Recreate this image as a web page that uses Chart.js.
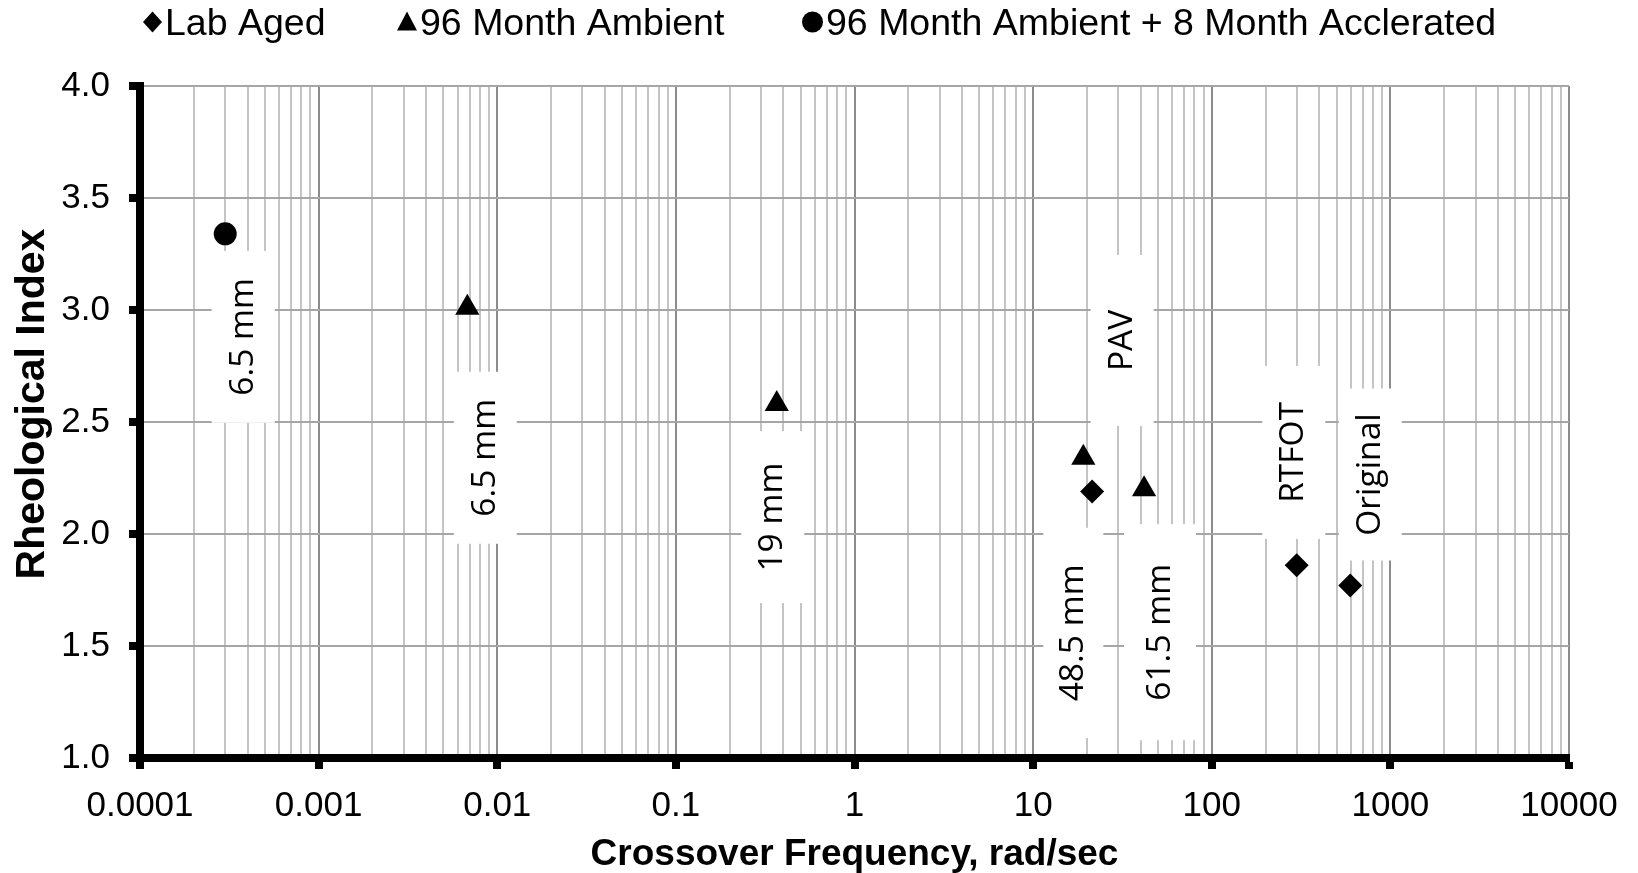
<!DOCTYPE html>
<html>
<head>
<meta charset="utf-8">
<title>Rheological Index vs Crossover Frequency</title>
<script src="https://cdn.jsdelivr.net/npm/chart.js@4.4.1/dist/chart.umd.min.js"></script>
<style>
  html, body { margin: 0; padding: 0; background: #ffffff; }
  #c { display: block; }
</style>
</head>
<body>
<canvas id="c" width="1638" height="873"></canvas>
<script>
// ---- data ----
const seriesNames = ['Lab Aged', '96 Month Ambient', '96 Month Ambient + 8 Month Acclerated'];

const labAgedX = [21.4, 299, 596];
const labAgedY = [2.19, 1.86, 1.77];
const labAgedLabels = ['PAV', 'RTFOT', 'Original'];

const ambientX = [0.0068, 0.367, 19.1, 41.8];
const ambientY = [3.01, 2.58, 2.34, 2.20];
const ambientLabels = ['6.5 mm', '19 mm', '48.5 mm', '61.5 mm'];

const acceleratedX = [0.0003];
const acceleratedY = [3.34];
const acceleratedLabels = ['6.5 mm'];

const xDecades = [0.0001, 0.001, 0.01, 0.1, 1, 10, 100, 1000, 10000];
const xTickLabels = ['0.0001', '0.001', '0.01', '0.1', '1', '10', '100', '1000', '10000'];

// ---- label placement: [dx, dy, boxWidth, boxHeight] from each point, in px ----
const labAgedLabelPos = [[30, -151, 63, 171], [-3, -113, 63, 173], [20, -111, 63, 172]];
const ambientLabelPos = [[18, 150, 63, 172], [-4, 113, 63, 172], [-10, 175, 60, 210], [16, 143, 72, 216]];
const acceleratedLabelPos = [[18, 103, 63, 172]];

// ---- legend layout: left edge of each entry, in px ----
const legendStartX = [143, 397, 802];

const SANS = '"Liberation Sans", Arial, sans-serif';
const LABEL_FONT = '33.5px "Open Sans", "Noto Sans", sans-serif';

function points(xs, ys) {
  return xs.map((x, i) => ({ x: x, y: ys[i] }));
}

const datasets = [
  {
    label: seriesNames[0],
    data: points(labAgedX, labAgedY),
    pointStyle: 'rectRot', pointRadius: 12,
    labels: labAgedLabels, labelPos: labAgedLabelPos
  },
  {
    label: seriesNames[1],
    data: points(ambientX, ambientY),
    pointStyle: 'triangle', pointRadius: 14,
    labels: ambientLabels, labelPos: ambientLabelPos
  },
  {
    label: seriesNames[2],
    data: points(acceleratedX, acceleratedY),
    pointStyle: 'circle', pointRadius: 11.5,
    labels: acceleratedLabels, labelPos: acceleratedLabelPos
  }
].map(d => Object.assign({
  showLine: false,
  backgroundColor: '#000000',
  borderColor: '#000000',
  borderWidth: 0,
  pointHoverRadius: d.pointRadius
}, d));

// white boxed, rotated point labels drawn over the grid and under the markers
const pointLabels = {
  id: 'pointLabels',
  beforeDatasetsDraw(chart) {
    const ctx = chart.ctx;
    chart.data.datasets.forEach((ds, di) => {
      const meta = chart.getDatasetMeta(di);
      meta.data.forEach((el, i) => {
        const p = ds.labelPos[i];
        const cx = el.x + p[0], cy = el.y + p[1];
        ctx.save();
        ctx.fillStyle = '#ffffff';
        ctx.fillRect(cx - p[2] / 2, cy - p[3] / 2, p[2], p[3]);
        ctx.translate(cx, cy);
        ctx.rotate(-Math.PI / 2);
        ctx.fillStyle = '#000000';
        ctx.font = LABEL_FONT;
        ctx.textAlign = 'center';
        ctx.textBaseline = 'middle';
        ctx.fillText(ds.labels[i], 0, 0);
        ctx.restore();
      });
    });
  }
};

function drawMarker(ctx, style, x, y) {
  ctx.beginPath();
  if (style === 'rectRot') {
    ctx.moveTo(x - 9.5, y); ctx.lineTo(x, y - 10.5); ctx.lineTo(x + 9.5, y); ctx.lineTo(x, y + 10.5);
  } else if (style === 'triangle') {
    ctx.moveTo(x, y - 10.5); ctx.lineTo(x + 10, y + 8.5); ctx.lineTo(x - 10, y + 8.5);
  } else {
    ctx.arc(x, y, 10.5, 0, Math.PI * 2);
  }
  ctx.closePath();
  ctx.fill();
}

// legend row and axis titles
const decorations = {
  id: 'decorations',
  afterDraw(chart) {
    const ctx = chart.ctx;
    const area = chart.chartArea;
    ctx.save();
    ctx.fillStyle = '#000000';
    ctx.font = '37.5px ' + SANS;
    ctx.textBaseline = 'alphabetic';
    ctx.textAlign = 'left';
    const markerW = { rectRot: 19, triangle: 20, circle: 21 };
    chart.data.datasets.forEach((ds, i) => {
      const x = legendStartX[i];
      const mw = markerW[ds.pointStyle];
      drawMarker(ctx, ds.pointStyle, x + mw / 2, 22);
      ctx.fillText(ds.label, x + mw + 3, 35);
    });

    ctx.font = 'bold 37px ' + SANS;
    ctx.textAlign = 'center';
    ctx.fillText('Crossover Frequency, rad/sec', (area.left + area.right) / 2, 865);

    ctx.font = 'bold 41px ' + SANS;
    ctx.translate(44, 404);
    ctx.rotate(-Math.PI / 2);
    ctx.fillText('Rheological Index', 0, 0);
    ctx.restore();
  }
};

Chart.defaults.font.family = SANS;
Chart.defaults.color = '#000000';

new Chart(document.getElementById('c'), {
  type: 'scatter',
  data: { datasets: datasets },
  options: {
    responsive: false,
    animation: false,
    events: [],
    layout: { autoPadding: false, padding: { top: 86, right: 69, left: 0, bottom: 0 } },
    plugins: { legend: { display: false }, tooltip: { enabled: false } },
    scales: {
      x: {
        type: 'logarithmic',
        min: xDecades[0],
        max: xDecades[xDecades.length - 1],
        afterBuildTicks(scale) {
          const t = [];
          xDecades.forEach((d, i) => {
            t.push({ value: d, major: true });
            if (i < xDecades.length - 1) {
              for (let k = 2; k <= 9; k++) t.push({ value: d * k, major: false });
            }
          });
          scale.ticks = t;
        },
        afterFit(scale) { scale.height = 115; },
        ticks: {
          autoSkip: false, maxRotation: 0, minRotation: 0, padding: 16,
          font: { size: 35 }, color: '#000000',
          callback(v) {
            const i = xDecades.findIndex(d => Math.abs(d - v) / d < 1e-9);
            return i >= 0 ? xTickLabels[i] : '';
          }
        },
        grid: {
          lineWidth: 2,
          color: c => (c.tick && c.tick.value === xDecades[0]) ? 'rgba(0,0,0,0)' : (c.tick && c.tick.major ? '#8c8c8c' : '#c4c4c4'),
          tickLength: 11, tickWidth: 8,
          tickColor: c => (c.tick && c.tick.major) ? '#000000' : 'rgba(0,0,0,0)'
        },
        border: { display: true, color: '#000000', width: 8 }
      },
      y: {
        min: 1, max: 4,
        afterFit(scale) { scale.width = 140; },
        ticks: {
          stepSize: 0.5, padding: 19,
          font: { size: 35 }, color: '#000000',
          callback: v => Number(v).toFixed(1)
        },
        grid: {
          lineWidth: 2,
          color: c => (c.tick && c.tick.value === 1) ? 'rgba(0,0,0,0)' : '#a6a6a6',
          tickLength: 11, tickWidth: 8, tickColor: '#000000'
        },
        border: { display: true, color: '#000000', width: 8 }
      }
    }
  },
  plugins: [pointLabels, decorations]
});
</script>
</body>
</html>
